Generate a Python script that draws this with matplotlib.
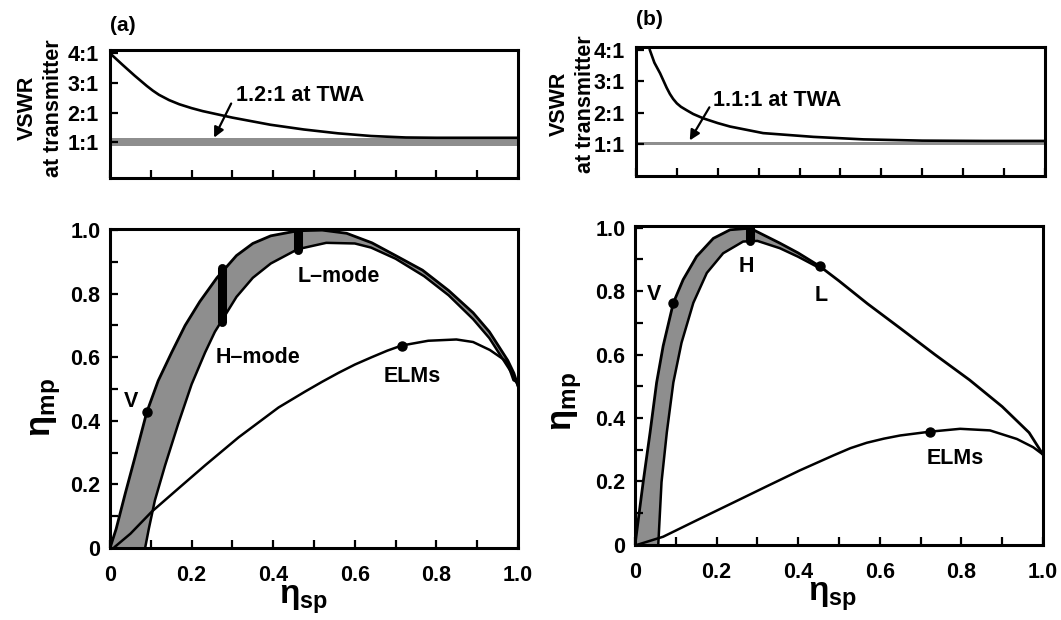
import numpy as np
import matplotlib.pyplot as plt
from matplotlib.ticker import MultipleLocator, NullFormatter

# ---- values ----
# (a) VSWR at transmitter vs eta_sp
vswr_a_x = [0, 0.03, 0.06, 0.09, 0.105, 0.12, 0.145, 0.17, 0.2, 0.227, 0.3, 0.393, 0.475,
            0.559, 0.64, 0.725, 0.8, 0.9, 1.0]
vswr_a_y = [4.0, 3.62, 3.25, 2.90, 2.74, 2.60, 2.42, 2.28, 2.15, 2.05, 1.83, 1.59, 1.43,
            1.30, 1.21, 1.16, 1.15, 1.15, 1.15]
band_a = (0.88, 1.15)  # 1.2:1 at TWA

# (b) VSWR at transmitter vs eta_sp
vswr_b_x = [0.034, 0.045, 0.059, 0.075, 0.083, 0.091, 0.1, 0.11, 0.124, 0.14, 0.165, 0.2,
            0.23, 0.311, 0.434, 0.556, 0.7, 0.85, 1.0]
vswr_b_y = [4.0, 3.6, 3.26, 2.80, 2.60, 2.44, 2.30, 2.19, 2.08, 1.96, 1.82, 1.67,
            1.56, 1.35, 1.23, 1.15, 1.11, 1.1, 1.1]
band_b = (0.97, 1.07)  # 1.1:1 at TWA

# (a) eta_mp vs eta_sp: edges of the shaded band and ELMs curve
outer_a_x = [0, 0.015, 0.037, 0.06, 0.09, 0.118, 0.151, 0.184, 0.22, 0.262, 0.31, 0.35, 0.394,
             0.46, 0.52, 0.58, 0.642, 0.70, 0.766, 0.83, 0.89, 0.93, 0.955, 0.975, 0.99, 1.0]
outer_a_y = [0, 0.06, 0.17, 0.28, 0.427, 0.526, 0.615, 0.70, 0.775, 0.85, 0.92, 0.958, 0.982,
             0.998, 1.0, 0.99, 0.96, 0.92, 0.874, 0.81, 0.74, 0.68, 0.63, 0.59, 0.55, 0.51]
inner_a_x = [0.086, 0.095, 0.11, 0.135, 0.167, 0.2, 0.233, 0.257, 0.31, 0.35, 0.394, 0.46,
             0.53, 0.60, 0.64, 0.70, 0.77, 0.83, 0.89, 0.93, 0.97, 0.99, 1.0]
inner_a_y = [0, 0.06, 0.15, 0.26, 0.39, 0.515, 0.615, 0.68, 0.79, 0.85, 0.895, 0.94,
             0.96, 0.958, 0.945, 0.91, 0.855, 0.795, 0.72, 0.66, 0.58, 0.54, 0.51]
elms_a_x = [0.012, 0.05, 0.102, 0.17, 0.233, 0.315, 0.413, 0.478, 0.52, 0.56, 0.60, 0.641,
            0.68, 0.715, 0.78, 0.849, 0.89, 0.931, 0.973, 0.989, 1.0]
elms_a_y = [0.004, 0.045, 0.114, 0.19, 0.26, 0.348, 0.442, 0.492, 0.523, 0.551, 0.577, 0.60,
            0.621, 0.637, 0.652, 0.656, 0.648, 0.623, 0.586, 0.528, 0.52]
bars_a = [(0.274, 0.71, 0.88), (0.46, 0.937, 0.998)]
dots_a_x = [0.09, 0.715]
dots_a_y = [0.427, 0.637]

# (b)
outer_b_x = [0, 0.02, 0.037, 0.053, 0.069, 0.094, 0.118, 0.151, 0.192, 0.233, 0.282, 0.355,
             0.40, 0.453, 0.50, 0.57, 0.65, 0.735, 0.82, 0.9, 0.966, 1.0]
outer_b_y = [0, 0.198, 0.355, 0.512, 0.627, 0.763, 0.836, 0.909, 0.966, 0.993, 0.998, 0.951,
             0.92, 0.878, 0.832, 0.76, 0.683, 0.60, 0.52, 0.436, 0.354, 0.285]
inner_b_x = [0.057, 0.065, 0.078, 0.094, 0.114, 0.143, 0.176, 0.216, 0.265, 0.30, 0.355, 0.40, 0.453]
inner_b_y = [0, 0.198, 0.355, 0.512, 0.637, 0.763, 0.857, 0.919, 0.956, 0.958, 0.935, 0.908, 0.872]
elms_b_x = [0.004, 0.069, 0.15, 0.24, 0.32, 0.404, 0.486, 0.528, 0.568, 0.61, 0.65, 0.723,
            0.797, 0.87, 0.936, 0.976, 1.0]
elms_b_y = [0, 0.026, 0.077, 0.133, 0.183, 0.235, 0.282, 0.305, 0.322, 0.335, 0.345, 0.357,
            0.366, 0.361, 0.334, 0.308, 0.285]
bars_b = [(0.282, 0.958, 0.998)]
dots_b_x = [0.094, 0.453, 0.723]
dots_b_y = [0.763, 0.878, 0.357]

plt.rcParams['font.family'] = ['Liberation Sans', 'DejaVu Sans']
plt.rcParams['font.weight'] = 'bold'
plt.rcParams['mathtext.fontset'] = 'custom'
plt.rcParams['mathtext.rm'] = 'Liberation Sans:bold'
plt.rcParams['mathtext.bf'] = 'Liberation Sans:bold'
plt.rcParams['mathtext.it'] = 'Liberation Sans:bold:italic'

SHADE = '#8e8e8e'
FS = 15.5

fig = plt.figure(figsize=(10.61, 6.2), dpi=100)


def style_axes(ax):
    for s in ax.spines.values():
        s.set_linewidth(2.2)
    ax.tick_params(which='both', direction='in', width=1.6, length=6, top=False, right=False)
    ax.tick_params(which='major', labelsize=FS, pad=7)


def vswr_panel(rect, ylim, xs, ys, band, label, label_y, text, text_xy, tip_xy, tail_xy, ylab_xy):
    ax = fig.add_axes(rect)
    ax.fill_between([0, 1], [band[0]] * 2, [band[1]] * 2, color=SHADE, lw=0)
    ax.plot(xs, ys, color='black', lw=1.9)
    ax.set_xlim(0, 1)
    ax.set_ylim(*ylim)
    ax.set_yticks([1, 2, 3, 4])
    ax.set_yticklabels(['1:1', '2:1', '3:1', '4:1'])
    ax.xaxis.set_major_locator(MultipleLocator(0.1))
    ax.xaxis.set_major_formatter(NullFormatter())
    style_axes(ax)
    ax.tick_params(axis='y', pad=8)
    ax.set_ylabel('VSWR\nat transmitter', fontsize=15.5, fontweight='bold', linespacing=1.3)
    ax.yaxis.set_label_coords(*ylab_xy)
    ax.text(text_xy[0], text_xy[1], text, fontsize=FS, fontweight='bold', va='center', ha='left')
    ax.annotate('', xy=tip_xy, xytext=tail_xy,
                arrowprops=dict(arrowstyle='-|>', color='black', lw=1.6, mutation_scale=15))
    ax.text(0.0, label_y, label, transform=ax.transAxes, fontsize=15, fontweight='bold', va='center')
    return ax


def eff_panel(rect, ox, oy, ix, iy, n_outer, ex, ey, bars, dx, dy, labels, xlab_xy, ylab_xy):
    ax = fig.add_axes(rect)
    poly_x = np.concatenate([ox[:n_outer], ix[::-1]])
    poly_y = np.concatenate([oy[:n_outer], iy[::-1]])
    ax.fill(poly_x, poly_y, color=SHADE, lw=0)
    ax.plot(ox, oy, color='black', lw=2.0)
    ax.plot(ix, iy, color='black', lw=1.8)
    ax.plot(ex, ey, color='black', lw=1.8)
    for bx, b0, b1 in bars:
        ax.plot([bx, bx], [b0, b1], color='black', lw=6.5, solid_capstyle='round')
    ax.plot(dx, dy, 'o', color='black', ms=6.5)
    for t, x, y in labels:
        ax.text(x, y, t, fontsize=FS, fontweight='bold', va='center', ha='left')
    ax.set_xlim(0, 1)
    ax.set_ylim(0, 1.005)
    ticks = [0, 0.2, 0.4, 0.6, 0.8, 1.0]
    names = ['0', '0.2', '0.4', '0.6', '0.8', '1.0']
    ax.set_xticks(ticks)
    ax.set_xticklabels(names)
    ax.set_yticks(ticks)
    ax.set_yticklabels(names)
    ax.xaxis.set_minor_locator(MultipleLocator(0.1))
    ax.yaxis.set_minor_locator(MultipleLocator(0.1))
    style_axes(ax)
    ax.tick_params(axis='x', which='major', pad=12)
    ax.set_xlabel(r'$\mathrm{\eta}_{\mathrm{sp}}$', fontsize=24)
    ax.set_ylabel(r'$\mathrm{\eta}_{\mathrm{mp}}$', fontsize=25)
    ax.xaxis.set_label_coords(*xlab_xy)
    ax.yaxis.set_label_coords(*ylab_xy)
    return ax


vswr_panel([0.1037, 0.7137, 0.3845, 0.2056], (-0.19, 4.11), vswr_a_x, vswr_a_y, band_a,
           '(a)', 1.19, '1.2:1 at TWA', (0.31, 2.56), (0.252, 1.07), (0.30, 2.39), (-0.113, 0.545))
vswr_panel([0.5994, 0.7161, 0.3855, 0.2081], (-0.02, 4.10), vswr_b_x, vswr_b_y, band_b,
           '(b)', 1.21, '1.1:1 at TWA', (0.189, 2.40), (0.128, 1.04), (0.183, 2.25), (-0.098, 0.558))

eff_panel([0.1037, 0.1161, 0.3845, 0.5153], outer_a_x, outer_a_y, inner_a_x, inner_a_y,
          len(outer_a_x), elms_a_x, elms_a_y, bars_a, dots_a_x, dots_a_y,
          [('V', 0.033, 0.46), ('H\u2013mode', 0.26, 0.60),
           ('L\u2013mode', 0.46, 0.853), ('ELMs', 0.67, 0.54)],
          (0.475, -0.11), (-0.115, 0.44))
eff_panel([0.5985, 0.1210, 0.3845, 0.5145], outer_b_x, outer_b_y, inner_b_x, inner_b_y,
          14, elms_b_x, elms_b_y, bars_b, dots_b_x, dots_b_y,
          [('V', 0.029, 0.789), ('H', 0.253, 0.878), ('L', 0.441, 0.785), ('ELMs', 0.715, 0.274)],
          (0.485, -0.11), (-0.125, 0.45))

fig.savefig('out.png', dpi=100, facecolor='white')
